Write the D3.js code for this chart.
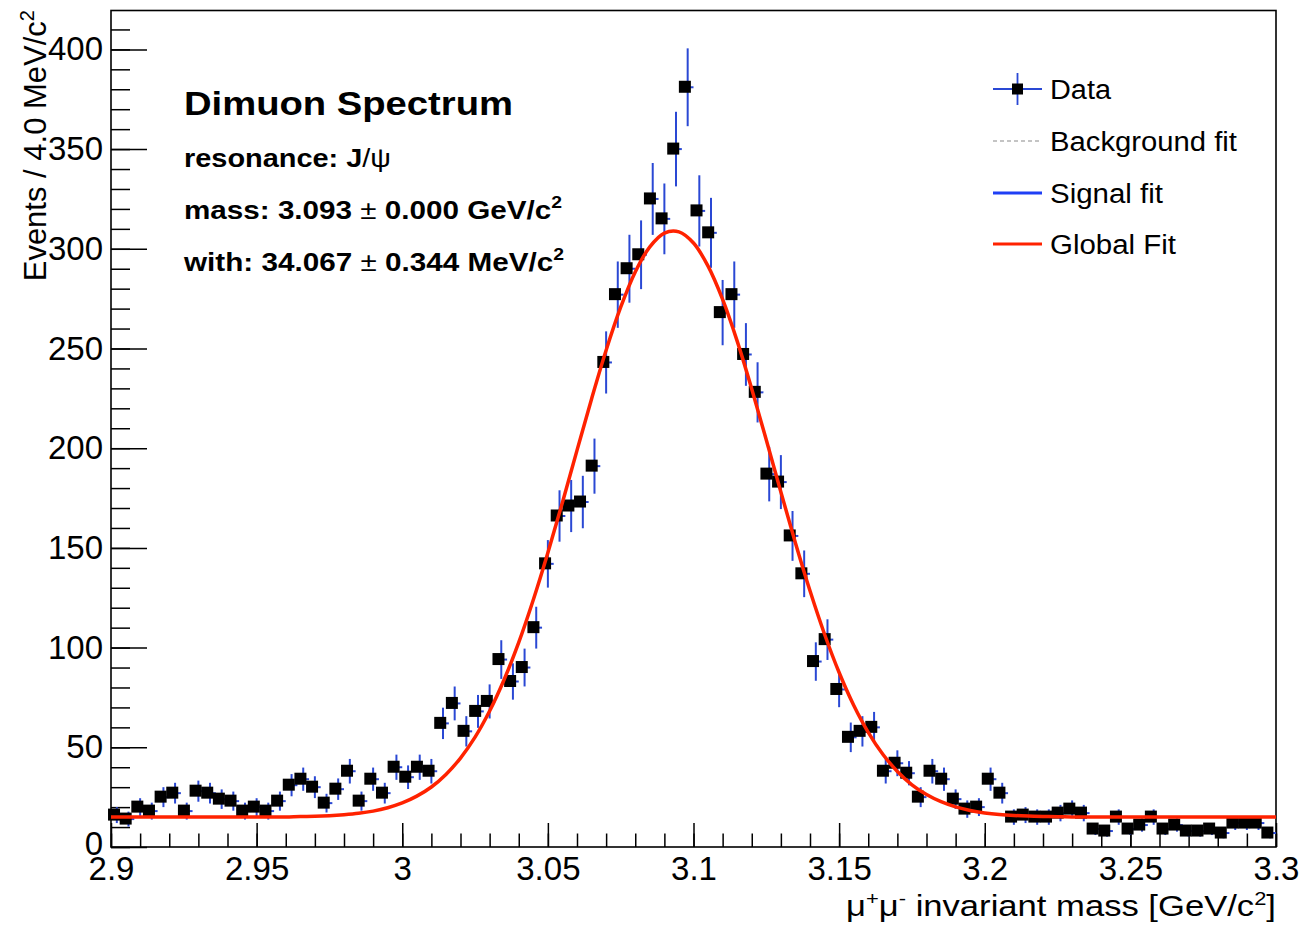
<!DOCTYPE html>
<html><head><meta charset="utf-8">
<script src="https://cdn.jsdelivr.net/npm/d3@7"></script>
<style>
body{margin:0;background:#fff;}
svg{display:block;}
text{font-family:"Liberation Sans",Arial,Helvetica,sans-serif;fill:#000;}
</style>
</head><body>
<script>
// ---- data ----
const binLow = 2.9, binWidth = 0.004;
const counts = [
  16,14,20,18,25,27,18,28,27,24,
  23,18,20,18,23,31,34,30,22,29,
  38,23,34,27,40,35,40,38,62,72,
  58,68,73,94,83,90,110,142,166,171,
  173,191,243,277,290,297,325,315,350,381,
  319,308,268,277,247,228,187,183,156,137,
  93,104,79,55,58,60,38,42,37,25,
  38,34,24,19,20,34,27,15,16,15,
  15,17,19,17,9,8,15,9,11,15,
  9,11,8,8,9,7,12,12,12,7
];
// global fit curve read at 5 MeV steps from 2.900 to 3.300
const fitStart = 2.9, fitStep = 0.005;
const fitValues = [
  15.0,15.0,15.0,15.0,15.0,15.0,15.0,15.0,15.0,15.0,15.0,
  15.1,15.1,15.3,15.4,15.7,16.2,16.9,18.0,19.7,22.1,
  25.5,30.1,36.4,44.6,55.1,68.2,84.0,102.6,124.0,147.6,
  172.8,198.9,224.7,249.1,270.7,288.4,301.0,307.9,308.5,302.9,
  291.3,274.6,253.7,229.7,204.1,178.0,152.5,128.5,106.7,87.5,
  71.1,57.5,46.5,37.9,31.2,26.3,22.7,20.1,18.3,17.1,
  16.3,15.8,15.5,15.3,15.2,15.1,15.0,15.0,15.0,15.0,
  15.0,15.0,15.0,15.0,15.0,15.0,15.0,15.0,15.0,15.0
];
const xTicks = [2.9,2.95,3,3.05,3.1,3.15,3.2,3.25,3.3];
const xTickLabels = ["2.9","2.95","3","3.05","3.1","3.15","3.2","3.25","3.3"];
const yTicks = [0,50,100,150,200,250,300,350,400];
const yTickLabels = ["0","50","100","150","200","250","300","350","400"];
const legendLabels = ["Data","Background fit","Signal fit","Global Fit"];
const legendWidths = [61,187,113,126];

// ---- layout ----
const W = 1301, H = 925;
const L = 111, R = 1276, T = 10.5, B = 847;
const svg = d3.select("body").append("svg").attr("width", W).attr("height", H);
svg.append("rect").attr("width", W).attr("height", H).attr("fill", "#fff");

const x = d3.scaleLinear().domain([2.9, 3.3]).range([L, R]);
const y = d3.scaleLinear().domain([0, 419.5]).range([B, T]);

// ---- axes ----
const minorX = d3.range(2.9, 3.3001, 0.01);
const minorY = d3.range(0, 419, 10);

const gx = svg.append("g").attr("transform", `translate(0,${B})`);
gx.call(d3.axisBottom(x).tickValues(minorX).tickSizeInner(-13.5).tickSizeOuter(0).tickFormat(""));
gx.call(g => g.select(".domain").remove());
const gx2 = svg.append("g").attr("transform", `translate(0,${B})`);
gx2.call(d3.axisBottom(x).tickValues(xTicks).tickSizeInner(-24).tickSizeOuter(0).tickPadding(10)
  .tickFormat((d, i) => xTickLabels[i]));
gx2.select(".domain").remove();
gx2.selectAll("text").attr("font-size", 33).attr("font-family", '"Liberation Sans",Arial,sans-serif');

const gy = svg.append("g").attr("transform", `translate(${L},0)`);
gy.call(d3.axisLeft(y).tickValues(minorY).tickSizeInner(-19).tickSizeOuter(0).tickFormat(""));
gy.select(".domain").remove();
const gy2 = svg.append("g").attr("transform", `translate(${L},0)`);
gy2.call(d3.axisLeft(y).tickValues(yTicks).tickSizeInner(-36).tickSizeOuter(0).tickPadding(8)
  .tickFormat((d, i) => yTickLabels[i]));
gy2.select(".domain").remove();
gy2.selectAll("text").attr("font-size", 33).attr("font-family", '"Liberation Sans",Arial,sans-serif');
// the "0" label sits a little high in the reference, just clear of "2.9"
gy2.selectAll(".tick").filter(d => d === 0).select("text").attr("dy", "0.22em");
svg.selectAll(".tick line").attr("stroke", "#000").attr("stroke-width", 1.5);

// frame
svg.append("rect").attr("x", L).attr("y", T).attr("width", R - L).attr("height", B - T)
  .attr("fill", "none").attr("stroke", "#000").attr("stroke-width", 1.6);

// ---- data points ----
const pts = counts.map((v, i) => ({c: binLow + (i + 0.5) * binWidth, v, e: Math.sqrt(v)}));
const errCol = "#2a48d4";
const gd = svg.append("g");
gd.selectAll("line.ev").data(pts).join("line").attr("class", "ev")
  .attr("x1", d => x(d.c)).attr("x2", d => x(d.c))
  .attr("y1", d => y(d.v - d.e)).attr("y2", d => y(d.v + d.e))
  .attr("stroke", errCol).attr("stroke-width", 2);
gd.selectAll("line.eh").data(pts).join("line").attr("class", "eh")
  .attr("x1", d => x(d.c - binWidth / 2)).attr("x2", d => x(d.c + binWidth / 2))
  .attr("y1", d => y(d.v)).attr("y2", d => y(d.v))
  .attr("stroke", errCol).attr("stroke-width", 2);
gd.selectAll("rect").data(pts).join("rect")
  .attr("x", d => x(d.c) - 2.8 - 6).attr("y", d => y(d.v) - 6.5)
  .attr("width", 12).attr("height", 12).attr("fill", "#000");

// ---- fit curve ----
const fitPts = fitValues.map((v, i) => [fitStart + i * fitStep, v]);
svg.append("path").datum(fitPts)
  .attr("d", d3.line().x(d => x(d[0])).y(d => y(d[1])).curve(d3.curveCatmullRom))
  .attr("fill", "none").attr("stroke", "#ff2200").attr("stroke-width", 3.5);

// ---- axis titles ----
const xt = svg.append("text").attr("x", R).attr("y", 916).attr("text-anchor", "end")
  .attr("font-size", 30).attr("textLength", 430).attr("lengthAdjust", "spacingAndGlyphs");
xt.append("tspan").text("μ");
xt.append("tspan").attr("dy", -11).attr("font-size", 19).text("+");
xt.append("tspan").attr("dy", 11).text("μ");
xt.append("tspan").attr("dy", -11).attr("font-size", 19).text("-");
xt.append("tspan").attr("dy", 11).text(" invariant mass [GeV/c");
xt.append("tspan").attr("dy", -11).attr("font-size", 19).text("2");
xt.append("tspan").attr("dy", 11).text("]");

const yt = svg.append("text").attr("transform", "translate(46,0) rotate(-90)")
  .attr("x", -10).attr("y", 0).attr("text-anchor", "end").attr("font-size", 31);
yt.append("tspan").text("Events / 4.0 MeV/c");
yt.append("tspan").attr("dy", -12).attr("font-size", 20).text("2");

// ---- info text ----
const infoX = 184;
svg.append("text").attr("x", infoX).attr("y", 115).attr("font-size", 34).attr("font-weight", "bold")
  .attr("textLength", 329).attr("lengthAdjust", "spacingAndGlyphs").text("Dimuon Spectrum");

const l1 = svg.append("text").attr("x", infoX).attr("y", 167).attr("font-size", 26).attr("font-weight", "bold")
  .attr("textLength", 207).attr("lengthAdjust", "spacingAndGlyphs");
l1.append("tspan").text("resonance: J");
l1.append("tspan").attr("font-weight", "normal").text("/ψ");

const l2 = svg.append("text").attr("x", infoX).attr("y", 219).attr("font-size", 26).attr("font-weight", "bold")
  .attr("textLength", 378).attr("lengthAdjust", "spacingAndGlyphs");
l2.append("tspan").text("mass: 3.093  ");
l2.append("tspan").attr("font-weight", "normal").text("±");
l2.append("tspan").text(" 0.000 GeV/c");
l2.append("tspan").attr("dy", -11).attr("font-size", 17).text("2");

const l3 = svg.append("text").attr("x", infoX).attr("y", 271).attr("font-size", 26).attr("font-weight", "bold")
  .attr("textLength", 380).attr("lengthAdjust", "spacingAndGlyphs");
l3.append("tspan").text("with: 34.067  ");
l3.append("tspan").attr("font-weight", "normal").text("±");
l3.append("tspan").text(" 0.344 MeV/c");
l3.append("tspan").attr("dy", -11).attr("font-size", 17).text("2");

// ---- legend ----
const lgX0 = 993, lgX1 = 1042, lgTextX = 1050;
const rowY = [89, 141, 193, 244];
const lg = svg.append("g");
// Data
lg.append("line").attr("x1", lgX0).attr("x2", lgX1).attr("y1", rowY[0]).attr("y2", rowY[0])
  .attr("stroke", errCol).attr("stroke-width", 1.8);
lg.append("line").attr("x1", (lgX0 + lgX1) / 2).attr("x2", (lgX0 + lgX1) / 2).attr("y1", rowY[0] - 16).attr("y2", rowY[0] + 16)
  .attr("stroke", errCol).attr("stroke-width", 1.8);
lg.append("rect").attr("x", (lgX0 + lgX1) / 2 - 5.5).attr("y", rowY[0] - 5.5).attr("width", 11).attr("height", 11).attr("fill", "#000");
// Background
lg.append("line").attr("x1", lgX0).attr("x2", lgX1).attr("y1", rowY[1]).attr("y2", rowY[1])
  .attr("stroke", "#c4c4c4").attr("stroke-width", 2).attr("stroke-dasharray", "4,3");
// Signal
lg.append("line").attr("x1", lgX0).attr("x2", lgX1).attr("y1", rowY[2]).attr("y2", rowY[2])
  .attr("stroke", "#1f3ff5").attr("stroke-width", 3);
// Global
lg.append("line").attr("x1", lgX0).attr("x2", lgX1).attr("y1", rowY[3]).attr("y2", rowY[3])
  .attr("stroke", "#ff2200").attr("stroke-width", 3);
legendLabels.forEach((t, i) => {
  lg.append("text").attr("x", lgTextX).attr("y", rowY[i] + 10).attr("font-size", 27)
    .attr("textLength", legendWidths[i]).attr("lengthAdjust", "spacingAndGlyphs").text(t);
});
</script>
</body></html>
